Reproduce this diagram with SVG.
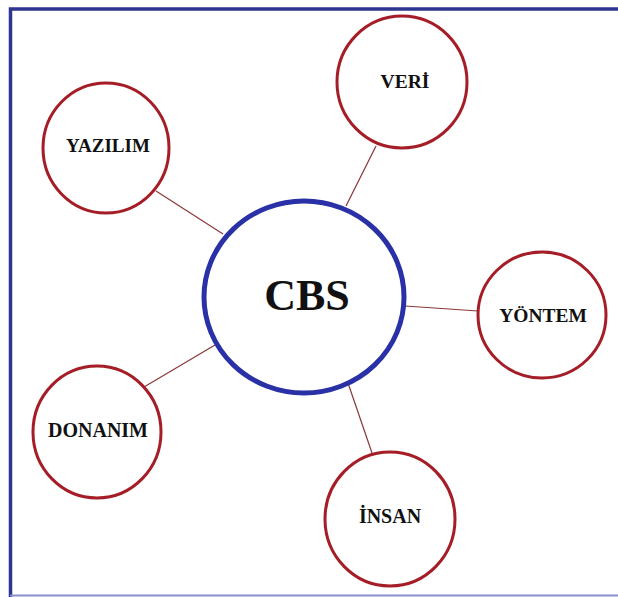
<svg xmlns="http://www.w3.org/2000/svg" width="618" height="597" viewBox="0 0 618 597">
<style>
.sat{fill:#fff;stroke:#a51d26;stroke-width:3}
.hub{fill:#fff;stroke:#2a30a6;stroke-width:5}
.lbl{font-family:"Liberation Serif","Times New Roman",serif;font-weight:bold;fill:#111;text-anchor:middle}
.conn line{stroke:#8a3838;stroke-width:1.2}
</style>
<rect width="618" height="597" fill="#fff"/>
<path d="M618 9 H10.5 V597" fill="none" stroke="#2e3590" stroke-width="3.5"/>
<line x1="10" y1="595.5" x2="618" y2="595.5" stroke="#8890d0" stroke-width="2"/>
<g id="connectors" class="conn">
<line x1="156" y1="191" x2="223" y2="234"/>
<line x1="376" y1="146" x2="346" y2="206"/>
<line x1="405" y1="306" x2="478" y2="311"/>
<line x1="144" y1="387" x2="215" y2="345"/>
<line x1="348" y1="383" x2="372" y2="453"/>
</g>
<g id="cbs">
<ellipse class="hub" cx="304" cy="297" rx="100" ry="96"/>
<text class="lbl" x="307" y="310" font-size="44">CBS</text>
</g>
<g id="yazilim">
<ellipse class="sat" cx="106" cy="148" rx="63" ry="65"/>
<text class="lbl" x="108" y="152" font-size="19">YAZILIM</text>
</g>
<g id="veri">
<ellipse class="sat" cx="402" cy="82" rx="65" ry="66"/>
<text class="lbl" x="405" y="88" font-size="19.5">VERİ</text>
</g>
<g id="yontem">
<ellipse class="sat" cx="542" cy="315" rx="64" ry="63"/>
<text class="lbl" x="543" y="322" font-size="19.5">YÖNTEM</text>
</g>
<g id="donanim">
<ellipse class="sat" cx="97" cy="432" rx="64" ry="66"/>
<text class="lbl" x="98" y="437" font-size="20">DONANIM</text>
</g>
<g id="insan">
<ellipse class="sat" cx="390" cy="519" rx="65" ry="67"/>
<text class="lbl" x="390" y="523" font-size="20">İNSAN</text>
</g>
</svg>
